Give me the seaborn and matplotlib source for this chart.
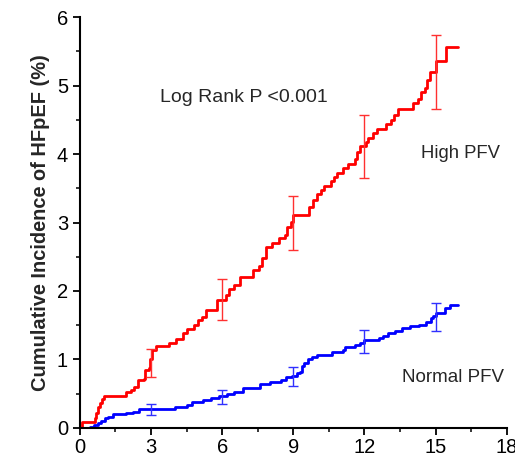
import matplotlib
matplotlib.use("Agg")
import matplotlib.pyplot as plt
import seaborn as sns
import pandas as pd
import numpy as np
from matplotlib.ticker import MultipleLocator

# ---- data ----
high_t = [0, 0.08, 0.62, 0.7, 0.78, 0.86, 0.94, 1.02, 1.95, 2.15, 2.3, 2.45, 2.7, 2.75, 2.9, 2.97,
          3.05, 3.2, 3.75, 4.05, 4.35, 4.5, 4.8, 5.0, 5.15, 5.3, 5.8, 6.15, 6.3, 6.5, 6.75, 7.3,
          7.55, 7.7, 7.85, 8.1, 8.4, 8.65, 8.75, 8.9, 9.0, 9.65, 9.85, 10.0, 10.15, 10.3, 10.6,
          10.7, 10.85, 11.1, 11.3, 11.6, 11.7, 11.8, 12.05, 12.15, 12.35, 12.55, 12.9, 13.1,
          13.25, 13.4, 14.05, 14.25, 14.4, 14.55, 14.65, 14.75, 15.0, 15.45, 15.95]
high_v = [0, 0.09, 0.15, 0.22, 0.30, 0.37, 0.43, 0.47, 0.52, 0.55, 0.60, 0.70, 0.72, 0.85, 0.87, 1.00,
          1.14, 1.20, 1.24, 1.30, 1.39, 1.45, 1.50, 1.58, 1.62, 1.72, 1.87, 1.94, 2.03, 2.09, 2.21, 2.31,
          2.37, 2.48, 2.64, 2.70, 2.77, 2.82, 2.94, 3.01, 3.11, 3.22, 3.33, 3.42, 3.47, 3.53, 3.60,
          3.67, 3.72, 3.80, 3.85, 3.93, 4.03, 4.11, 4.18, 4.23, 4.30, 4.37, 4.44, 4.50,
          4.57, 4.65, 4.74, 4.81, 4.90, 4.96, 5.08, 5.20, 5.36, 5.56, 5.56]

normal_t = [0, 0.45, 0.6, 0.75, 0.9, 1.05, 1.2, 1.4, 1.95, 2.25, 2.5, 3.3, 4.0, 4.5, 4.75, 5.2,
            5.55, 5.85, 6.2, 6.5, 6.9, 7.6, 8.0, 8.5, 8.7, 8.95, 9.15, 9.3, 9.35, 9.45, 9.6, 9.8,
            10.0, 10.65, 11.1, 11.2, 11.6, 11.8, 12.0, 12.6, 12.8, 13.0, 13.3, 13.6, 13.9, 14.3,
            14.6, 14.8, 14.9, 15.0, 15.4, 15.6, 15.95]
normal_v = [0, 0.02, 0.04, 0.07, 0.10, 0.14, 0.16, 0.20, 0.22, 0.24, 0.27, 0.28, 0.31, 0.34, 0.38, 0.41,
            0.44, 0.47, 0.50, 0.53, 0.58, 0.64, 0.67, 0.70, 0.74, 0.76, 0.80, 0.82, 0.90, 0.95, 1.00, 1.03,
            1.07, 1.11, 1.14, 1.18, 1.21, 1.24, 1.28, 1.31, 1.34, 1.38, 1.42, 1.46, 1.49, 1.51,
            1.55, 1.60, 1.64, 1.68, 1.75, 1.80, 1.80]

err_t = [3, 6, 9, 12, 15]
high_lo = [0.74, 1.57, 2.60, 3.65, 4.66]
high_hi = [1.16, 2.18, 3.39, 4.57, 5.74]
normal_lo = [0.19, 0.35, 0.62, 1.09, 1.42]
normal_hi = [0.35, 0.55, 0.89, 1.43, 1.82]

x_ticks = [0, 3, 6, 9, 12, 15, 18]
y_ticks = [0, 1, 2, 3, 4, 5, 6]

# ---- plot ----
sns.set_theme(style="ticks")
plt.rcParams['font.family'] = ['Liberation Sans', 'DejaVu Sans']

fig = plt.figure(figsize=(5.15, 4.61), dpi=100)
ax = fig.add_axes([0.155, 0.0716, 0.829, 0.8915])

df_h = pd.DataFrame({"t": high_t, "v": high_v})
df_n = pd.DataFrame({"t": normal_t, "v": normal_v})
sns.lineplot(data=df_h, x="t", y="v", ax=ax, color="#ff0000", lw=2,
             drawstyle="steps-post", estimator=None, sort=False)
sns.lineplot(data=df_n, x="t", y="v", ax=ax, color="#0000ff", lw=2,
             drawstyle="steps-post", estimator=None, sort=False)

for lo, hi, c in [(high_lo, high_hi, "#ff3030"), (normal_lo, normal_hi, "#3030ff")]:
    lo = np.array(lo); hi = np.array(hi)
    mid = (lo + hi) / 2
    ax.errorbar(err_t, mid, yerr=[mid - lo, hi - mid], fmt="none", ecolor=c,
                elinewidth=1, capsize=3.5, capthick=1)

ax.set_xlim(0, 18)
ax.set_ylim(0, 6)
ax.set_xticks(x_ticks)
ax.set_yticks(y_ticks)
ax.xaxis.set_minor_locator(MultipleLocator(1.5))
ax.yaxis.set_minor_locator(MultipleLocator(0.5))
ax.tick_params(which="major", direction="out", length=5, width=1.3, labelsize=14.5, colors="black")
ax.tick_params(axis="x", which="major", pad=2)
ax.tick_params(which="minor", direction="out", length=3, width=1.3)
ax.set_xlabel("")
ax.set_ylabel("Cumulative Incidence of HFpEF (%)", fontsize=14.4, fontweight="bold", labelpad=5)
sns.despine(ax=ax)
for s in ["left", "bottom"]:
    ax.spines[s].set_linewidth(1.5)
    ax.spines[s].set_color("black")

ax.text(3.37, 4.83, "Log Rank P <0.001", fontsize=14, va="center", ha="left")
ax.text(14.4, 4.01, "High PFV", fontsize=13.3, va="center", ha="left")
ax.text(13.6, 0.73, "Normal PFV", fontsize=13.5, va="center", ha="left")

fig.savefig("out.png", dpi=100)
